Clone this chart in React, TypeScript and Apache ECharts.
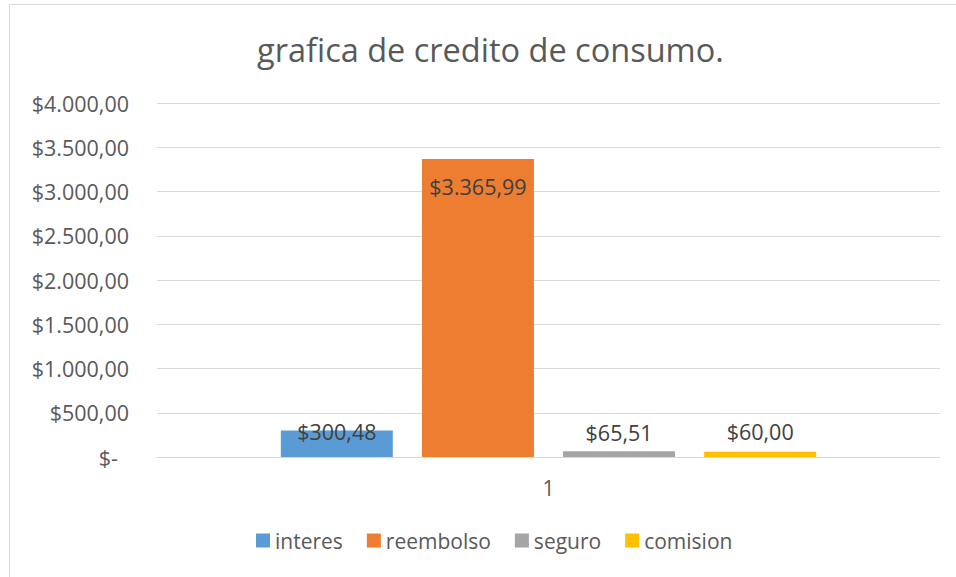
import React, { useEffect, useRef } from "react";
import * as echarts from "echarts";

const titleText = "grafica de credito de consumo.";
const categories = ["1"];
const seriesNames = ["interes", "reembolso", "seguro", "comision"];
const seriesValues = [300.48, 3365.99, 65.51, 60.0];
const seriesColors = ["#5B9BD5", "#ED7D31", "#A5A5A5", "#FFC000"];
const yTicks = [0, 500, 1000, 1500, 2000, 2500, 3000, 3500, 4000];
// label offsets (style): vertical position of label center relative to bar top
const labelOffsets = [1, 27, -19, -20];

const FONT = "'Open Sans', 'Noto Sans', sans-serif";

function fmtMoney(v: number): string {
  const fixed = v.toFixed(2);
  const [intPart, dec] = fixed.split(".");
  const withDots = intPart.replace(/\B(?=(\d{3})+(?!\d))/g, ".");
  return "$" + withDots + "," + dec;
}

export default function App() {
  const ref = useRef<HTMLDivElement>(null);
  useEffect(() => {
    document.body.style.margin = "0";
    if (!ref.current) return;
    const chart = echarts.init(ref.current, undefined, { renderer: "svg" });
    chart.setOption({
      animation: false,
      backgroundColor: "#ffffff",
      textStyle: { fontFamily: FONT },
      graphic: [
        {
          type: "rect",
          shape: { x: 9.5, y: 4.5, width: 960, height: 600 },
          style: { fill: "none", stroke: "#D9D9D9", lineWidth: 1 },
          silent: true,
          z: -1,
        },
      ],
      title: {
        text: titleText,
        left: 257,
        top: 33,
        padding: 0,
        textStyle: {
          fontFamily: FONT,
          fontSize: 32.5,
          fontWeight: "normal",
          color: "#595959",
        },
      },
      legend: {
        data: seriesNames,
        bottom: 26,
        left: 256,
        padding: 0,
        itemWidth: 14,
        itemHeight: 14,
        itemGap: 24,
        icon: "rect",
        textStyle: { fontFamily: FONT, fontSize: 21, color: "#595959", padding: [0, 0, 0, 0] },
      },
      grid: { left: 157, right: 16, top: 103, bottom: 120, containLabel: false },
      xAxis: {
        type: "category",
        data: categories,
        axisLine: { show: true, lineStyle: { color: "#D9D9D9", width: 1 } },
        axisTick: { show: false },
        axisLabel: { fontFamily: FONT, fontSize: 21, color: "#595959", margin: 20 },
      },
      yAxis: {
        type: "value",
        min: yTicks[0],
        max: yTicks[yTicks.length - 1],
        interval: 500,
        axisLine: { show: false },
        axisTick: { show: false },
        splitLine: { lineStyle: { color: "#D9D9D9", width: 1 } },
        axisLabel: {
          fontFamily: FONT,
          fontSize: 21.5,
          color: "#595959",
          margin: 28,
          formatter: (v: number) => (v === 0 ? "{z|$-}" : fmtMoney(v)),
          rich: {
            z: { fontFamily: FONT, fontSize: 21.5, color: "#595959", padding: [0, 11, 0, 0] },
          },
        },
      },
      series: seriesNames.map((name, i) => ({
        name,
        type: "bar",
        data: [seriesValues[i]],
        barWidth: 112,
        barGap: "26%",
        itemStyle: { color: seriesColors[i] },
        label: {
          show: true,
          position: ["50%", labelOffsets[i]],
          align: "center",
          verticalAlign: "middle",
          fontFamily: FONT,
          fontSize: 21.5,
          color: "#404040",
          formatter: () => fmtMoney(seriesValues[i]),
        },
      })),
    });
    return () => chart.dispose();
  }, []);
  return <div ref={ref} style={{ width: 956, height: 577 }} />;
}
